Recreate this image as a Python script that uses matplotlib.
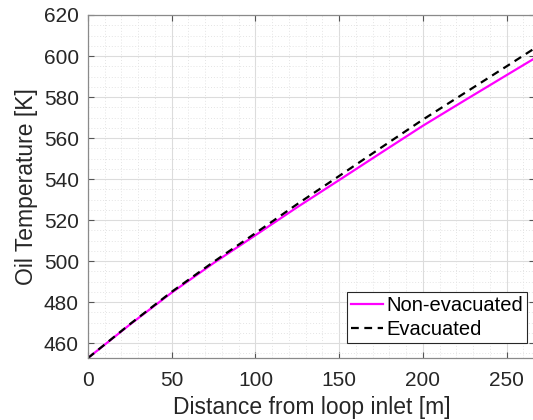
import numpy as np
import matplotlib.pyplot as plt
from matplotlib.ticker import MultipleLocator

# distance along loop [m] and oil temperature [K]
distance = [0, 25, 50, 75, 100, 125, 150, 175, 200, 225, 250, 270]
temp_non_evac = [452.7, 469.0, 484.6, 499.0, 512.6, 526.3, 539.5, 552.8, 566.0, 578.4, 590.7, 600.5]
temp_evac = [452.7, 469.2, 485.0, 499.6, 513.6, 527.8, 541.5, 555.3, 569.0, 582.0, 595.0, 605.5]

plt.rcParams['font.family'] = ['Liberation Sans', 'DejaVu Sans']

fig = plt.figure(figsize=(5.33, 4.2), dpi=100)
ax = fig.add_axes([88 / 533, 1 - 358 / 420, 447 / 533, 343 / 420])

ax.plot(distance, temp_non_evac, color='#ff00ff', lw=1.6, label='Non-evacuated')
ax.plot(distance, temp_evac, color='black', lw=1.6, ls=(0, (3.5, 2.5)), label='Evacuated')

ax.set_xlim(0, 266.9)
ax.set_ylim(452.7, 620)
ax.xaxis.set_major_locator(MultipleLocator(50))
ax.xaxis.set_minor_locator(MultipleLocator(10))
ax.yaxis.set_major_locator(MultipleLocator(20))
ax.yaxis.set_minor_locator(MultipleLocator(5))

ax.grid(which='major', color='#dcdcdc', lw=0.8)
ax.grid(which='minor', color='#e4e4e4', lw=0.7, ls=(0, (1, 2)))
ax.set_axisbelow(True)

for s in ax.spines.values():
    s.set_color('#8a8a8a')
    s.set_linewidth(0.9)
ax.tick_params(which='major', direction='in', length=4, color='#555555',
               labelsize=15, labelcolor='#262626', top=True, right=True)
ax.tick_params(axis='x', pad=9)
ax.tick_params(axis='y', pad=6.5)
ax.tick_params(which='minor', length=0)

ax.set_xlabel('Distance from loop inlet [m]', fontsize=16.5, color='#262626', labelpad=5)
ax.set_ylabel('Oil Temperature [K]', fontsize=16.5, color='#262626', labelpad=4)

leg = ax.legend(loc='lower right', bbox_to_anchor=(0.982, 0.043), fontsize=14.5,
                frameon=True, fancybox=False, framealpha=1, edgecolor='#262626',
                handlelength=1.6, handletextpad=0.15, borderpad=0.2, labelspacing=0.28,
                borderaxespad=0)
leg.get_frame().set_linewidth(0.8)

fig.savefig('out.png', dpi=100)
